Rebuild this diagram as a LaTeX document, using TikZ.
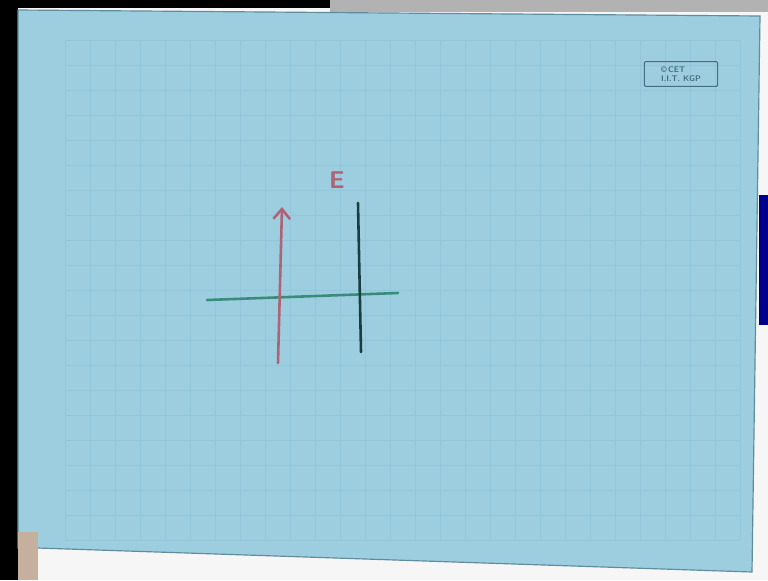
\documentclass[tikz,border=0pt]{standalone}
\usepackage{tikz}
\usepackage{xcolor}
\usetikzlibrary{arrows.meta, positioning}
\definecolor{cPaper}{RGB}{156,206,224}
\definecolor{cGrid}{RGB}{146,198,218}
\definecolor{cEdge}{RGB}{96,140,158}
\definecolor{cMauve}{RGB}{176,98,118}
\definecolor{cTeal}{RGB}{58,140,122}
\definecolor{cDark}{RGB}{24,62,64}
\definecolor{cLogo}{RGB}{70,110,125}
\tikzset{
	pen/.style     ={line width=2.2pt, line cap=round},
	vecarrow/.style={pen, cMauve, -{Straight Barb[length=3mm, width=5mm, line width=2.2pt]}},
	logobox/.style ={rectangle, draw=cLogo, line width=0.9pt, rounded corners=1pt, align=left, text=cLogo, font=\sffamily\scriptsize\bfseries, inner sep=1pt, minimum width=2.2cm, minimum height=0.74cm},
}
\begin{document}
\begin{tikzpicture}[x=0.03cm, y=-0.03cm]
	\useasboundingbox (0,0) rectangle (768,580);
	% photo surroundings
	\fill[white!93!gray] (0,0) rectangle (768,580);
	\fill[black] (0,0) rectangle (18,580);
	\fill[black] (0,0) rectangle (330,8);
	\fill[gray!60] (330,0) rectangle (768,12);
	\fill[blue!55!black] (759,195) rectangle (768,325);
	% sheet of graph paper
	\fill[cPaper, draw=cEdge, line width=1pt] (18,10) -- (760,16) -- (752,572) -- (38,548) -- (18,548) -- cycle;
	\foreach \x in {65,90,...,740} {
		\draw[cGrid, line width=0.3pt] (\x,40) -- (\x,540);
	}
	\foreach \y in {40,65,...,540} {
		\draw[cGrid, line width=0.3pt] (65,\y) -- (740,\y);
	}
	\fill[white!55!brown!70!gray] (18,532) rectangle (38,580);
	% logo
	\node[logobox] (logo) at (681,74) {\textcopyright\,CET\\I.I.T. KGP};
	% sketch
	\coordinate (hL) at (207,300);
	\coordinate (hR) at (398,293);
	\coordinate (vB) at (278,363);
	\coordinate (vT) at (282,207);
	\coordinate (dT) at (358,203);
	\coordinate (dB) at (361,352);
	\draw[pen, cTeal] (hL) -- (hR);
	\draw[vecarrow] (vB) -- (vT);
	\draw[pen, cDark] (dT) -- (dB);
	\node[text=cMauve, font=\sffamily\huge\bfseries] (E) at (337,180) {E};
\end{tikzpicture}
\end{document}
